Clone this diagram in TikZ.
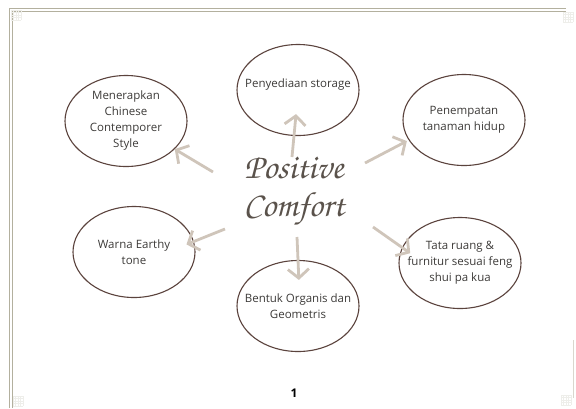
\documentclass[tikz,border=0pt]{standalone}
\usepackage[T1]{fontenc}
\usepackage{fontspec}
\setmainfont{Open Sans}
\usepackage{tikz}
\usetikzlibrary{arrows.meta, shapes.geometric, positioning}
\definecolor{blobc}{HTML}{5B433D}
\definecolor{arrowc}{HTML}{CFC5BA}
\definecolor{framec}{HTML}{B3B09E}
\definecolor{titlec}{HTML}{5A524B}
\definecolor{textc}{HTML}{3C3A38}
\newcommand{\pcfont}{\fontencoding{T1}\fontfamily{pzc}\selectfont}

\begin{document}
\begin{tikzpicture}[
            x = 1pt,
            y = -1pt,
            blob/.style = {ellipse, draw=blobc, line width=1.1pt, inner sep=0pt,
                minimum width=122pt, minimum height=91pt},
            txt/.style = {align=center, text=textc, font=\fontsize{11.5}{16}\selectfont},
            arr/.style = {draw=arrowc, line width=2.8pt, -{Straight Barb[length=9pt,width=21pt]}},
            frame/.style = {draw=framec, line width=0.6pt}
        ]
        \useasboundingbox (0,0) rectangle (576,408);

        % page frame
        \draw[frame] (9,408) -- (9,8) -- (566,8);
        \draw[frame] (12,408) -- (12,11) -- (566,11);
        \draw[frame, draw opacity=0.5] (573,340) -- (573,398);
        \foreach \cx/\cy in {16/15, 568/17, 18/401, 566/400} {
            \foreach \d in {-5,-2.5,...,5} {
                \draw[framec!22, line width=0.4pt] (\cx+\d,\cy-5) -- (\cx+\d,\cy+5);
                \draw[framec!22, line width=0.4pt] (\cx-5,\cy+\d) -- (\cx+5,\cy+\d);
            }
        }

        % title
        \node[align=center, text=titlec, font=\pcfont\fontsize{35}{38}\selectfont] (P) at (294,192) {Positive\\Comfort};

        % ideas
        \node[blob] (C) at (126,121) {};
        \node[txt] (Ct) at (C) {Menerapkan\\Chinese\\Contemporer\\Style};
        \node[blob] (S) at (298,90) {};
        \node[txt] (St) at (298,85) {Penyediaan storage};
        \node[blob] (T) at (464,120) {};
        \node[txt] (Tt) at (T) {Penempatan\\tanaman hidup};
        \node[blob] (W) at (134,252) {};
        \node[txt] (Wt) at (W) {Warna Earthy\\tone};
        \node[blob] (B) at (298,306) {};
        \node[txt] (Bt) at (B) {Bentuk Organis dan\\Geometris};
        \node[blob] (F) at (460,263) {};
        \node[txt] (Ft) at (F) {Tata ruang \&\\furnitur sesuai feng\\shui pa kua};

        \node[font=\bfseries\fontsize{12}{14}\selectfont] (N) at (294,393) {1};

        % arrows
        \coordinate (pU) at (292,157);
        \coordinate (pD) at (297,237);
        \coordinate (pC) at (213,172);
        \coordinate (pT) at (365,163);
        \coordinate (pW) at (225,229);
        \coordinate (pF) at (373,227);

        \draw[arr, shorten >=-22pt] (pU) -- (S.-95);
        \draw[arr, shorten >=-20pt] (pD) -- (B.north);
        \draw[arr] (pC) -- (C.-30);
        \draw[arr, shorten >=2pt] (pT) -- (T.200);
        \draw[arr, shorten >=-8pt] (pW) -- (W.10);
        \draw[arr, shorten >=-10pt] (pF) -- (F.165);
    \end{tikzpicture}
\end{document}
